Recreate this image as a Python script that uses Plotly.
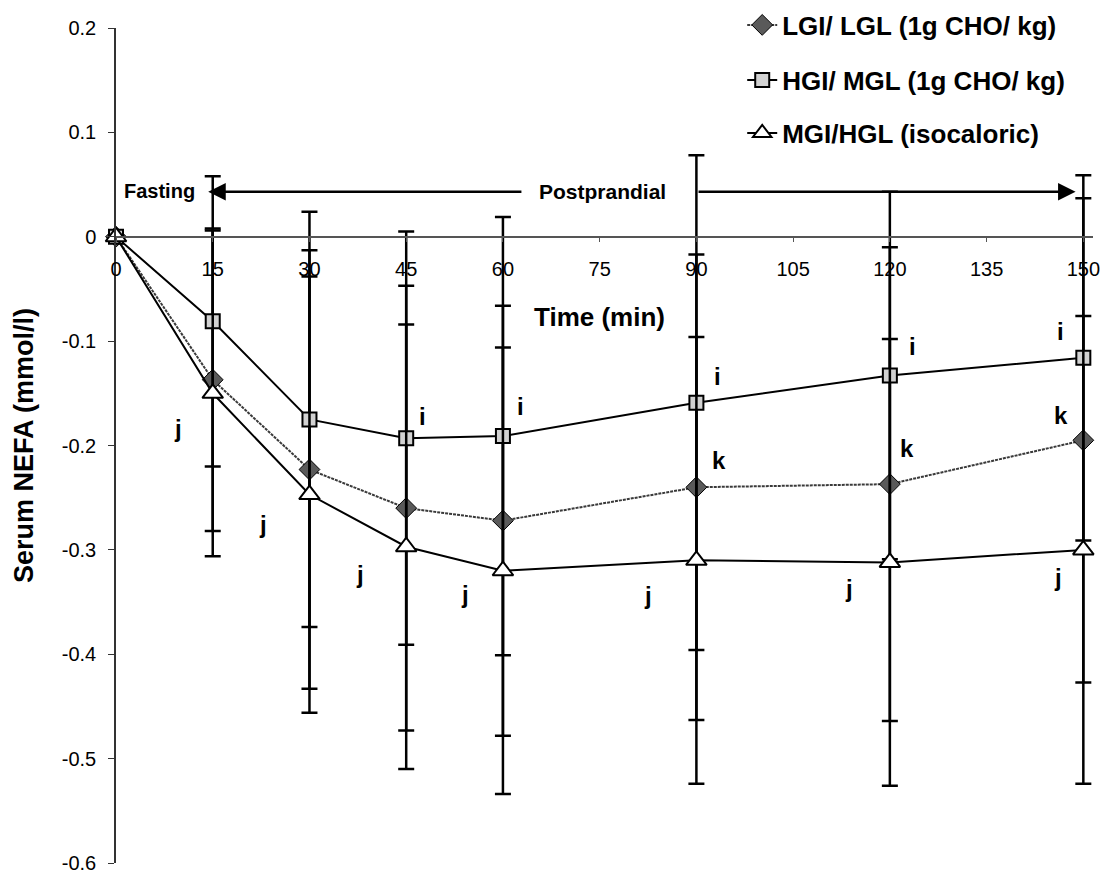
import plotly.graph_objects as go

# Sampling times (min) after the test meal
times = [0, 15, 30, 45, 60, 90, 120, 150]

# Change in serum NEFA (mmol/l): means and SD for each meal
lgl_mean = [0, -0.137, -0.223, -0.260, -0.272, -0.240, -0.237, -0.195]
lgl_sd = [0, 0.145, 0.210, 0.213, 0.206, 0.223, 0.227, 0.232]
hgl_mean = [0, -0.081, -0.175, -0.193, -0.191, -0.159, -0.133, -0.116]
hgl_sd = [0, 0.139, 0.199, 0.198, 0.210, 0.237, 0.176, 0.175]
mgl_mean = [0, -0.150, -0.247, -0.297, -0.320, -0.310, -0.312, -0.300]
mgl_sd = [0, 0.156, 0.209, 0.213, 0.214, 0.214, 0.214, 0.224]

series_names = [
    "LGI/ LGL (1g CHO/ kg)",
    "HGI/ MGL (1g CHO/ kg)",
    "MGI/HGL (isocaloric)",
]

x_ticks = [0, 15, 30, 45, 60, 75, 90, 105, 120, 135, 150]
y_ticks = [0.2, 0.1, 0, -0.1, -0.2, -0.3, -0.4, -0.5, -0.6]
y_ticktext = ["0.2", "0.1", "0", "-0.1", "-0.2", "-0.3", "-0.4", "-0.5", "-0.6"]

# Significance letters: (text, time, value)
sig_labels = [
    ("j", 9.6, -0.184), ("j", 22.8, -0.276), ("j", 37.8, -0.324),
    ("j", 54.1, -0.343), ("j", 82.5, -0.344), ("j", 113.7, -0.337),
    ("j", 146.1, -0.326),
    ("i", 47.5, -0.172), ("i", 62.7, -0.163), ("i", 93.2, -0.134),
    ("i", 123.5, -0.105), ("i", 146.4, -0.091),
    ("k", 93.5, -0.214), ("k", 122.7, -0.203), ("k", 146.6, -0.171),
]

FONT = "Liberation Sans, Arial, sans-serif"

# x range runs a little past 150 so the last error-bar caps are not clipped
X_MAX = 151.5
PLOT_LEFT, PLOT_RIGHT_AT_150 = 116, 1083
plot_w = (PLOT_RIGHT_AT_150 - PLOT_LEFT) * X_MAX / 150
right_margin = 1111 - PLOT_LEFT - plot_w
TOP, BOTTOM = 28, 10
plot_h = 873 - TOP - BOTTOM


def legend_y(px):
    return (873 - BOTTOM - px) / plot_h


fig = go.Figure()

err_style = dict(type="data", color="black", thickness=2.5, width=8, visible=True)

fig.add_trace(go.Scatter(
    x=times, y=lgl_mean, name=series_names[0], mode="lines+markers",
    line=dict(color="#3a3a3a", width=2, dash="3px,1px"),
    marker=dict(symbol="diamond", size=16, color="#5a5a5a",
                line=dict(color="black", width=1)),
    error_y=dict(array=lgl_sd, **err_style),
    cliponaxis=False, legend="legend",
))
fig.add_trace(go.Scatter(
    x=times, y=hgl_mean, name=series_names[1], mode="lines+markers",
    line=dict(color="black", width=2),
    marker=dict(symbol="square", size=14, color="#d2d2d2",
                line=dict(color="black", width=2)),
    error_y=dict(array=hgl_sd, **err_style),
    cliponaxis=False, legend="legend2",
))
fig.add_trace(go.Scatter(
    x=times, y=mgl_mean, name=series_names[2], mode="lines+markers",
    line=dict(color="black", width=2),
    marker=dict(symbol="triangle-up", size=18, color="white",
                line=dict(color="black", width=2)),
    error_y=dict(array=mgl_sd, **err_style),
    cliponaxis=False, legend="legend3",
))

annotations = []
for txt, tx, ty in sig_labels:
    annotations.append(dict(x=tx, y=ty, xref="x", yref="y", text=txt,
                            showarrow=False,
                            font=dict(family=FONT, size=24, color="black",
                                      weight="bold")))

# Fasting / postprandial period markers
annotations += [
    dict(x=6.7, y=0.0438, xref="x", yref="y", text="Fasting", showarrow=False,
         font=dict(family=FONT, size=20, color="black", weight="bold")),
    dict(x=75.5, y=0.0438, xref="x", yref="y", text="Postprandial",
         showarrow=False,
         font=dict(family=FONT, size=21, color="black", weight="bold")),
    dict(x=14.3, y=0.043, ax=63.1, ay=0.043, xref="x", yref="y",
         axref="x", ayref="y", text="", showarrow=True, arrowhead=2,
         arrowsize=1.4, arrowwidth=2.5, arrowcolor="black", standoff=0),
    dict(x=148.8, y=0.043, ax=90.1, ay=0.043, xref="x", yref="y",
         axref="x", ayref="y", text="", showarrow=True, arrowhead=2,
         arrowsize=1.4, arrowwidth=2.5, arrowcolor="black", standoff=0),
    dict(x=74.9, y=-0.077, xref="x", yref="y", text="Time (min)",
         showarrow=False,
         font=dict(family=FONT, size=26, color="black", weight="bold")),
]

legend_common = dict(
    xanchor="left", yanchor="middle", bgcolor="rgba(0,0,0,0)",
    borderwidth=0, font=dict(family=FONT, size=26, color="black",
                             weight="bold"),
)
leg_x = (742 - PLOT_LEFT) / plot_w

fig.update_layout(
    width=1111, height=873,
    margin=dict(l=PLOT_LEFT, r=right_margin, t=TOP, b=BOTTOM, autoexpand=False),
    plot_bgcolor="white", paper_bgcolor="white",
    font=dict(family=FONT, color="black"),
    showlegend=True,
    legend=dict(x=leg_x, y=legend_y(25), **legend_common),
    legend2=dict(x=leg_x, y=legend_y(80), **legend_common),
    legend3=dict(x=leg_x, y=legend_y(133), **legend_common),
    annotations=annotations,
    xaxis=dict(
        range=[0, X_MAX], tickvals=x_ticks, ticktext=[str(t) for t in x_ticks],
        showgrid=False, zeroline=False, showline=True, linecolor="#555",
        linewidth=1.5, ticks="outside", ticklen=4, tickcolor="#555",
        tickfont=dict(family=FONT, size=20, color="black"),
        anchor="free", position=0.75, ticklabelstandoff=10, automargin=False,
    ),
    yaxis=dict(
        range=[-0.6, 0.2], tickvals=y_ticks, ticktext=y_ticktext,
        showgrid=False, zeroline=False, showline=True, linecolor="#333",
        linewidth=1.5, ticks="outside", ticklen=6, tickcolor="#333",
        tickfont=dict(family=FONT, size=20, color="black"),
        ticklabelstandoff=8, ticklabeloverflow="allow", automargin=False,
        title=dict(text="Serum NEFA (mmol/l)", standoff=20,
                   font=dict(family=FONT, size=27, color="black",
                             weight="bold")),
    ),
)

fig.write_html("out.html")
